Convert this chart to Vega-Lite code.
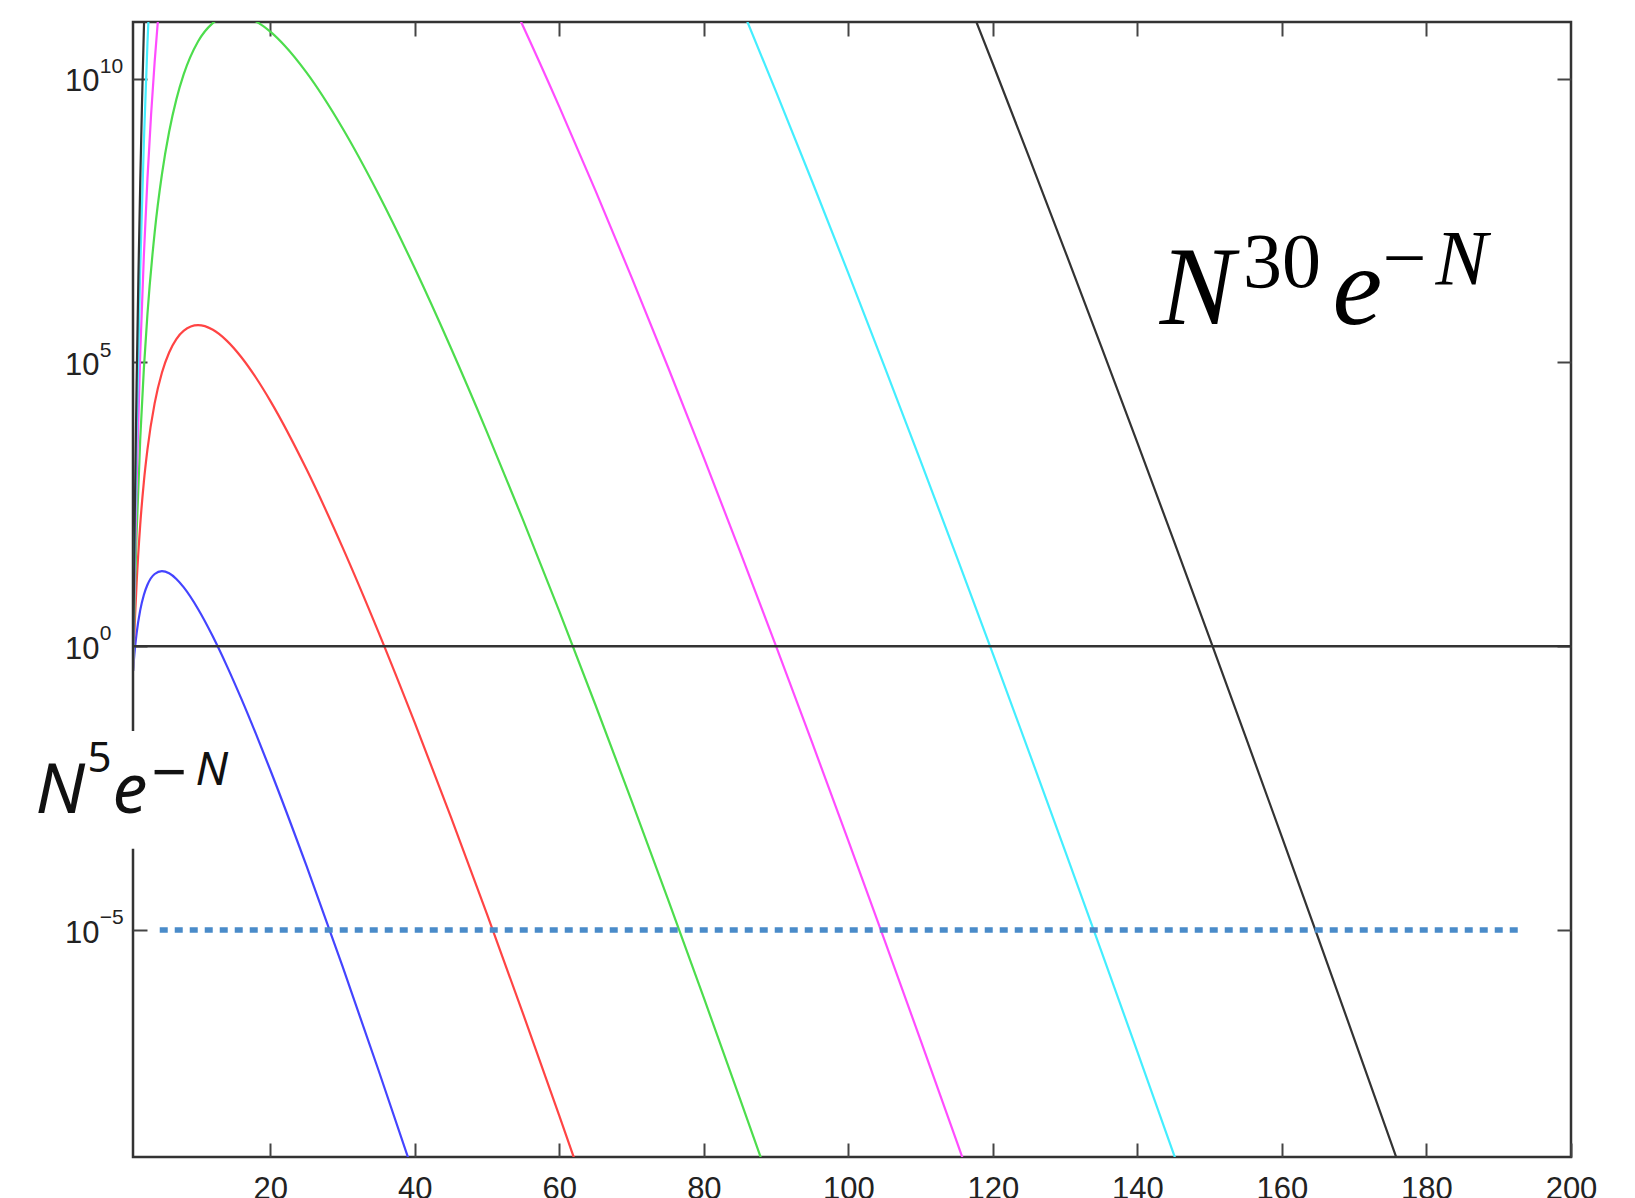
{
  "$schema": "https://vega.github.io/schema/vega-lite/v6.json",
  "width": 1438,
  "height": 1135,
  "autosize": {"type": "none"},
  "padding": {"left": 133, "top": 22, "right": 64, "bottom": 41},
  "background": "white",
  "config": {"view": {"stroke": "#333333", "strokeWidth": 2.5}},
  "resolve": {"axis": {"x": "independent", "y": "independent"}},
  "layer": [
    {
      "data": {"values": [
        {"N": 1, "k": 5, "value": 0.368}, {"N": 1.25, "k": 5, "value": 0.874}, {"N": 1.5, "k": 5, "value": 1.694}, {"N": 2, "k": 5, "value": 4.33}, {"N": 2.5, "k": 5, "value": 8.02}, {"N": 3, "k": 5, "value": 12.1}, {"N": 4, "k": 5, "value": 18.76}, {"N": 5, "k": 5, "value": 21.06}, {"N": 6, "k": 5, "value": 19.28}, {"N": 7, "k": 5, "value": 15.33}, {"N": 8, "k": 5, "value": 10.99}, {"N": 10, "k": 5, "value": 4.54}, {"N": 12, "k": 5, "value": 1.529}, {"N": 14, "k": 5, "value": 0.4472}, {"N": 16, "k": 5, "value": 0.118}, {"N": 18, "k": 5, "value": 0.02878}, {"N": 20, "k": 5, "value": 0.0066}, {"N": 25, "k": 5, "value": 1.356e-4}, {"N": 30, "k": 5, "value": 2.275e-6}, {"N": 35, "k": 5, "value": 3.311e-8}, {"N": 40, "k": 5, "value": 4.35e-10},
        {"N": 1, "k": 10, "value": 0.368}, {"N": 1.25, "k": 10, "value": 2.668}, {"N": 1.5, "k": 10, "value": 12.87}, {"N": 2, "k": 10, "value": 138.6}, {"N": 2.5, "k": 10, "value": 782.8}, {"N": 3, "k": 10, "value": 2940}, {"N": 4, "k": 10, "value": 19206}, {"N": 5, "k": 10, "value": 65800}, {"N": 6, "k": 10, "value": 149880}, {"N": 7, "k": 10, "value": 257580}, {"N": 8, "k": 10, "value": 360200}, {"N": 10, "k": 10, "value": 454000}, {"N": 12, "k": 10, "value": 380430}, {"N": 14, "k": 10, "value": 240520}, {"N": 16, "k": 10, "value": 123740}, {"N": 18, "k": 10, "value": 54379}, {"N": 20, "k": 10, "value": 21107}, {"N": 25, "k": 10, "value": 1324.5}, {"N": 30, "k": 10, "value": 55.26}, {"N": 35, "k": 10, "value": 1.739}, {"N": 40, "k": 10, "value": 0.04455}, {"N": 45, "k": 10, "value": 9.745e-4}, {"N": 50, "k": 10, "value": 1.884e-5}, {"N": 55, "k": 10, "value": 3.292e-7}, {"N": 60, "k": 10, "value": 5.294e-9}, {"N": 65, "k": 10, "value": 7.94e-11},
        {"N": 1, "k": 15, "value": 0.368}, {"N": 1.25, "k": 15, "value": 8.144}, {"N": 1.5, "k": 15, "value": 97.7}, {"N": 2, "k": 15, "value": 4435}, {"N": 2.5, "k": 15, "value": 76447}, {"N": 3, "k": 15, "value": 714390}, {"N": 4, "k": 15, "value": 1.9666e7}, {"N": 5, "k": 15, "value": 2.0563e8}, {"N": 6, "k": 15, "value": 1.1655e9}, {"N": 7, "k": 15, "value": 4.3293e9}, {"N": 8, "k": 15, "value": 1.1803e10}, {"N": 10, "k": 15, "value": 4.54e10}, {"N": 12, "k": 15, "value": 9.468e10}, {"N": 14, "k": 15, "value": 1.294e11}, {"N": 16, "k": 15, "value": 1.298e11}, {"N": 18, "k": 15, "value": 1.027e11}, {"N": 20, "k": 15, "value": 6.754e10}, {"N": 22, "k": 15, "value": 3.818e10}, {"N": 25, "k": 15, "value": 1.293e10}, {"N": 30, "k": 15, "value": 1.343e9}, {"N": 35, "k": 15, "value": 9.138e7}, {"N": 40, "k": 15, "value": 4.562e6}, {"N": 45, "k": 15, "value": 1.798e5}, {"N": 50, "k": 15, "value": 5886}, {"N": 55, "k": 15, "value": 165.7}, {"N": 60, "k": 15, "value": 4.118}, {"N": 65, "k": 15, "value": 0.09218}, {"N": 70, "k": 15, "value": 1.888e-3}, {"N": 75, "k": 15, "value": 3.579e-5}, {"N": 80, "k": 15, "value": 6.351e-7}, {"N": 85, "k": 15, "value": 1.062e-8}, {"N": 90, "k": 15, "value": 1.687e-10},
        {"N": 1, "k": 20, "value": 0.368}, {"N": 1.25, "k": 20, "value": 24.85}, {"N": 1.5, "k": 20, "value": 742}, {"N": 2, "k": 20, "value": 1.419e5}, {"N": 2.5, "k": 20, "value": 7.466e6}, {"N": 3, "k": 20, "value": 1.736e8}, {"N": 3.5, "k": 20, "value": 2.298e9}, {"N": 4, "k": 20, "value": 2.014e10}, {"N": 4.5, "k": 20, "value": 1.288e11}, {"N": 5, "k": 20, "value": 6.43e11}, {"N": 6, "k": 20, "value": 9.06e12}, {"N": 8, "k": 20, "value": 3.867e14}, {"N": 10, "k": 20, "value": 4.54e15}, {"N": 15, "k": 20, "value": 1.017e17}, {"N": 20, "k": 20, "value": 2.161e17}, {"N": 30, "k": 20, "value": 3.263e16}, {"N": 40, "k": 20, "value": 4.671e14}, {"N": 45, "k": 20, "value": 3.318e13}, {"N": 50, "k": 20, "value": 1.839e12}, {"N": 55, "k": 20, "value": 8.337e10}, {"N": 60, "k": 20, "value": 3.201e9}, {"N": 65, "k": 20, "value": 1.069e8}, {"N": 70, "k": 20, "value": 3.172e6}, {"N": 75, "k": 20, "value": 8.495e4}, {"N": 80, "k": 20, "value": 2081}, {"N": 85, "k": 20, "value": 47.14}, {"N": 90, "k": 20, "value": 0.9961}, {"N": 95, "k": 20, "value": 0.01979}, {"N": 100, "k": 20, "value": 3.721e-4}, {"N": 105, "k": 20, "value": 6.651e-6}, {"N": 110, "k": 20, "value": 1.136e-7}, {"N": 115, "k": 20, "value": 1.863e-9}, {"N": 120, "k": 20, "value": 2.939e-11},
        {"N": 1, "k": 25, "value": 0.368}, {"N": 1.25, "k": 25, "value": 75.85}, {"N": 1.5, "k": 25, "value": 5634}, {"N": 2, "k": 25, "value": 4.541e6}, {"N": 2.5, "k": 25, "value": 7.292e8}, {"N": 3, "k": 25, "value": 4.218e10}, {"N": 3.5, "k": 25, "value": 1.207e12}, {"N": 4, "k": 25, "value": 2.062e13}, {"N": 5, "k": 25, "value": 2.009e15}, {"N": 10, "k": 25, "value": 4.54e20}, {"N": 25, "k": 25, "value": 1.234e24}, {"N": 50, "k": 25, "value": 5.75e20}, {"N": 70, "k": 25, "value": 5.333e15}, {"N": 75, "k": 25, "value": 2.016e14}, {"N": 80, "k": 25, "value": 6.82e12}, {"N": 85, "k": 25, "value": 2.092e11}, {"N": 90, "k": 25, "value": 5.884e9}, {"N": 95, "k": 25, "value": 1.531e8}, {"N": 100, "k": 25, "value": 3.721e6}, {"N": 105, "k": 25, "value": 8.491e4}, {"N": 110, "k": 25, "value": 1830}, {"N": 115, "k": 25, "value": 37.47}, {"N": 120, "k": 25, "value": 0.7316}, {"N": 125, "k": 25, "value": 0.01368}, {"N": 130, "k": 25, "value": 2.456e-4}, {"N": 135, "k": 25, "value": 4.253e-6}, {"N": 140, "k": 25, "value": 7.114e-8}, {"N": 145, "k": 25, "value": 1.152e-9}, {"N": 150, "k": 25, "value": 1.811e-11},
        {"N": 1, "k": 30, "value": 0.368}, {"N": 1.25, "k": 30, "value": 231.4}, {"N": 1.5, "k": 30, "value": 4.279e4}, {"N": 1.75, "k": 30, "value": 3.398e6}, {"N": 2, "k": 30, "value": 1.453e8}, {"N": 2.25, "k": 30, "value": 3.876e9}, {"N": 2.5, "k": 30, "value": 7.119e10}, {"N": 2.75, "k": 30, "value": 9.674e11}, {"N": 3, "k": 30, "value": 1.025e13}, {"N": 3.5, "k": 30, "value": 6.34e14}, {"N": 4, "k": 30, "value": 2.111e16}, {"N": 5, "k": 30, "value": 6.275e18}, {"N": 10, "k": 30, "value": 4.54e25}, {"N": 30, "k": 30, "value": 1.927e31}, {"N": 60, "k": 30, "value": 1.935e27}, {"N": 90, "k": 30, "value": 3.473e19}, {"N": 100, "k": 30, "value": 3.721e16}, {"N": 105, "k": 30, "value": 1.083e15}, {"N": 110, "k": 30, "value": 2.947e13}, {"N": 115, "k": 30, "value": 7.54e11}, {"N": 120, "k": 30, "value": 1.82e10}, {"N": 125, "k": 30, "value": 4.174e8}, {"N": 130, "k": 30, "value": 9.118e6}, {"N": 135, "k": 30, "value": 1.906e5}, {"N": 140, "k": 30, "value": 3826}, {"N": 145, "k": 30, "value": 73.86}, {"N": 150, "k": 30, "value": 1.375}, {"N": 155, "k": 30, "value": 0.02479}, {"N": 160, "k": 30, "value": 4.331e-4}, {"N": 165, "k": 30, "value": 7.341e-6}, {"N": 170, "k": 30, "value": 1.212e-7}, {"N": 175, "k": 30, "value": 1.949e-9}, {"N": 180, "k": 30, "value": 3.055e-11}
      ]},
      "mark": {"type": "line", "clip": true, "interpolate": "monotone", "strokeWidth": 2.2},
      "encoding": {
        "x": {"field": "N", "type": "quantitative",
              "scale": {"domain": [1, 200], "nice": false, "zero": false},
              "axis": {"orient": "bottom", "title": null, "values": [20, 40, 60, 80, 100, 120, 140, 160, 180, 200],
                       "domain": false, "grid": false, "tickSize": -14, "tickWidth": 2, "tickColor": "#444444",
                       "labelFont": "Liberation Sans", "labelFontSize": 31, "labelColor": "#222222",
                       "labelPadding": 31, "labelFlush": false, "labelOverlap": false}},
        "y": {"field": "value", "type": "quantitative",
              "scale": {"type": "log", "domain": [1e-9, 1e11], "nice": false},
              "axis": {"orient": "left", "title": null, "values": [1e-5, 1, 1e5, 1e10],
                       "labelExpr": "'10'",
                       "domain": false, "grid": false, "tickSize": -14, "tickWidth": 2, "tickColor": "#444444",
                       "labelFont": "Liberation Sans", "labelFontSize": 31, "labelColor": "#222222",
                       "labelAlign": "left", "labelPadding": 82.5, "labelOffset": 3, "labelBaseline": "middle",
                       "labelFlush": false, "labelOverlap": false}},
        "color": {"field": "k", "type": "nominal",
                  "scale": {"domain": [5, 10, 15, 20, 25, 30], "range": ["#4444ff", "#ff4444", "#4ddd4d", "#ff4dff", "#44eeff", "#333333"]},
                  "legend": null}
      }
    },
    {
      "data": {"values": [{"y": 1}]},
      "mark": {"type": "rule", "color": "#333333", "strokeWidth": 2.5},
      "encoding": {"y": {"field": "y", "type": "quantitative", "axis": null}}
    },
    {
      "data": {"values": [{"x": 4.7, "x2": 193.3, "y": 1e-5}]},
      "mark": {"type": "rule", "color": "#4a8bc9", "strokeWidth": 5.5, "strokeDash": [8, 7], "strokeCap": "butt"},
      "encoding": {
        "x": {"field": "x", "type": "quantitative",
              "axis": {"orient": "top", "title": null, "labels": false, "values": [20, 40, 60, 80, 100, 120, 140, 160, 180],
                       "domain": false, "grid": false, "tickSize": -14, "tickWidth": 2, "tickColor": "#444444"}},
        "x2": {"field": "x2"},
        "y": {"field": "y", "type": "quantitative",
              "axis": {"orient": "right", "title": null, "labels": false, "values": [1e-5, 1, 1e5, 1e10],
                       "domain": false, "grid": false, "tickSize": -14, "tickWidth": 2, "tickColor": "#444444"}}
      }
    },
    {
      "data": {"values": [{"x": -3.6, "y": 1e10, "exp": "10"}, {"x": -3.6, "y": 1e5, "exp": "5"}, {"x": -3.6, "y": 1, "exp": "0"}, {"x": -3.6, "y": 1e-5, "exp": "−5"}]},
      "mark": {"type": "text", "font": "Liberation Sans", "fontSize": 21, "align": "left", "baseline": "alphabetic", "dy": -6, "color": "#222222"},
      "encoding": {
        "x": {"field": "x", "type": "quantitative", "axis": null},
        "y": {"field": "y", "type": "quantitative", "axis": null},
        "text": {"field": "exp"}
      }
    },
    {
      "data": {"values": [{"x": -16, "x2": 13.5, "y": 0.032, "y2": 0.00027}]},
      "mark": {"type": "rect", "color": "white", "clip": false},
      "encoding": {
        "x": {"field": "x", "type": "quantitative", "axis": null},
        "x2": {"field": "x2"},
        "y": {"field": "y", "type": "quantitative", "axis": null},
        "y2": {"field": "y2"}
      }
    },
    {
      "data": {"values": [{"x": -12.5, "y": 0.001167, "label": "N"}, {"x": -1.84, "y": 0.001167, "label": "e"}]},
      "mark": {"type": "text", "font": "Noto Sans", "fontStyle": "italic", "fontSize": 70, "align": "left", "baseline": "alphabetic", "color": "#111111"},
      "encoding": {
        "x": {"field": "x", "type": "quantitative", "axis": null},
        "y": {"field": "y", "type": "quantitative", "axis": null},
        "text": {"field": "label"}
      }
    },
    {
      "data": {"values": [{"x": -5.3, "y": 0.0062, "label": "5"}]},
      "mark": {"type": "text", "font": "Noto Sans", "fontSize": 42, "align": "left", "baseline": "alphabetic", "color": "#111111"},
      "encoding": {
        "x": {"field": "x", "type": "quantitative", "axis": null},
        "y": {"field": "y", "type": "quantitative", "axis": null},
        "text": {"field": "label"}
      }
    },
    {
      "data": {"values": [{"x": 3.56, "y": 0.00252, "label": "−"}]},
      "mark": {"type": "text", "font": "Noto Sans", "fontSize": 62, "align": "left", "baseline": "alphabetic", "color": "#111111"},
      "encoding": {
        "x": {"field": "x", "type": "quantitative", "axis": null},
        "y": {"field": "y", "type": "quantitative", "axis": null},
        "text": {"field": "label"}
      }
    },
    {
      "data": {"values": [{"x": 9.65, "y": 0.00352, "label": "N"}]},
      "mark": {"type": "text", "font": "Noto Sans", "fontStyle": "italic", "fontSize": 46, "align": "left", "baseline": "alphabetic", "color": "#111111"},
      "encoding": {
        "x": {"field": "x", "type": "quantitative", "axis": null},
        "y": {"field": "y", "type": "quantitative", "axis": null},
        "text": {"field": "label"}
      }
    },
    {
      "data": {"values": [{"x": 143.1, "y": 472000, "label": "N"}, {"x": 167.0, "y": 472000, "label": "e"}]},
      "mark": {"type": "text", "font": "Liberation Serif", "fontStyle": "italic", "fontSize": 112, "align": "left", "baseline": "alphabetic", "color": "#000000"},
      "encoding": {
        "x": {"field": "x", "type": "quantitative", "axis": null},
        "y": {"field": "y", "type": "quantitative", "axis": null},
        "text": {"field": "label"}
      }
    },
    {
      "data": {"values": [{"x": 154.6, "y": 2120000, "label": "30"}, {"x": 173.9, "y": 2390000, "label": "−"}]},
      "mark": {"type": "text", "font": "Liberation Serif", "fontSize": 78, "align": "left", "baseline": "alphabetic", "color": "#000000"},
      "encoding": {
        "x": {"field": "x", "type": "quantitative", "axis": null},
        "y": {"field": "y", "type": "quantitative", "axis": null},
        "text": {"field": "label"}
      }
    },
    {
      "data": {"values": [{"x": 181.25, "y": 2390000, "label": "N"}]},
      "mark": {"type": "text", "font": "Liberation Serif", "fontStyle": "italic", "fontSize": 78, "align": "left", "baseline": "alphabetic", "color": "#000000"},
      "encoding": {
        "x": {"field": "x", "type": "quantitative", "axis": null},
        "y": {"field": "y", "type": "quantitative", "axis": null},
        "text": {"field": "label"}
      }
    }
  ]
}
